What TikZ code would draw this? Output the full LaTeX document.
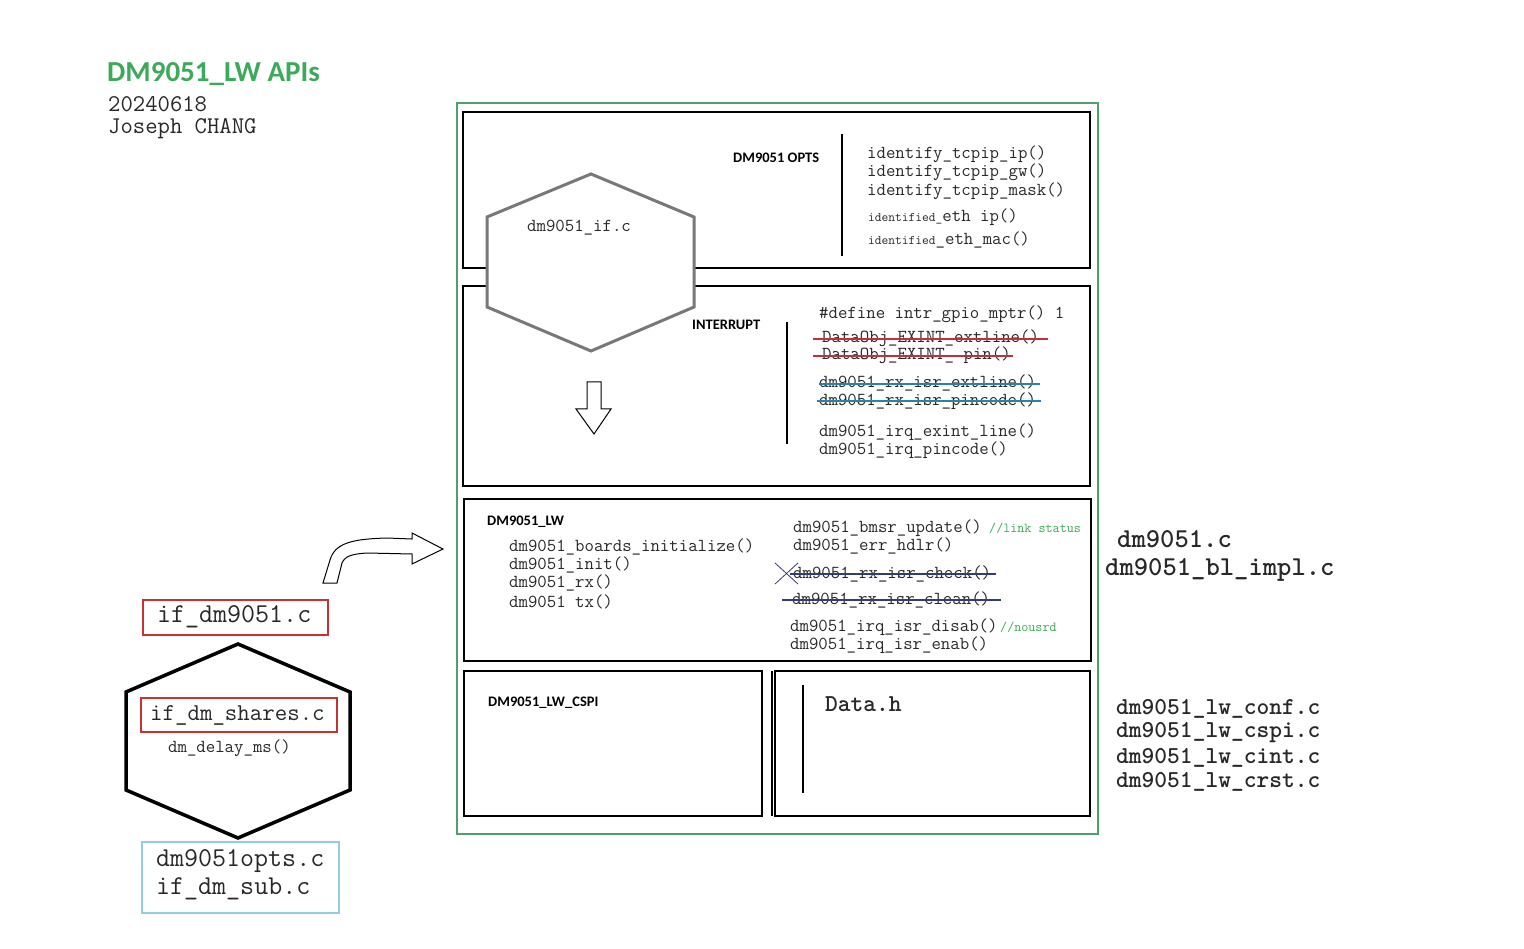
\documentclass[tikz,border=0pt]{standalone}
\usepackage{fontspec}
\newfontfamily\sansf{Carlito}
\definecolor{titlegreen}{RGB}{60,170,90}
\definecolor{framegreen}{RGB}{80,160,110}
\definecolor{commentgreen}{RGB}{60,170,90}
\definecolor{strikered}{RGB}{190,50,60}
\definecolor{striketeal}{RGB}{40,130,170}
\definecolor{strikenavy}{RGB}{50,60,120}
\definecolor{boxred}{RGB}{200,50,50}
\definecolor{boxblue}{RGB}{150,205,220}
\definecolor{hexgray}{RGB}{120,120,120}
\definecolor{textgray}{RGB}{40,40,40}
\tikzset{
  mtxt/.style={font=\ttfamily\fontsize{18.3}{21}\selectfont, anchor=west, inner sep=0pt, text=textgray},
  smtxt/.style={font=\ttfamily\fontsize{13.7}{16}\selectfont, anchor=west, inner sep=0pt, text=commentgreen},
  stxt/.style={font=\sansf\bfseries\fontsize{14.5}{17}\selectfont, anchor=west, inner sep=0pt, text=black},
  bigbold/.style={font=\ttfamily\bfseries\fontsize{27.3}{32}\selectfont, anchor=west, inner sep=0pt, text=textgray},
  midbold/.style={font=\ttfamily\bfseries\fontsize{24.3}{28}\selectfont, anchor=west, inner sep=0pt, text=textgray},
  bigmono/.style={font=\ttfamily\fontsize{27.2}{32}\selectfont, anchor=west, inner sep=0pt, text=textgray},
  midmono/.style={font=\ttfamily\fontsize{24.2}{28}\selectfont, anchor=west, inner sep=0pt, text=textgray},
  panel/.style={draw=black, line width=1.2pt},
  sepline/.style={draw=black, line width=1.2pt},
  strike/.style={line width=1.1pt},
}
\begin{document}
\begin{tikzpicture}[x=1pt,y=-1pt]
\useasboundingbox[fill=white] (0,0) rectangle (1524,949);

% title block
\node[font=\sansf\bfseries\fontsize{29}{34}\selectfont, text=titlegreen, anchor=west, inner sep=0pt] (title) at (107,74) {DM9051\_LW APIs};
\node[font=\ttfamily\fontsize{24}{28}\selectfont, text=textgray, anchor=west, inner sep=0pt] (date) at (108,104) {20240618};
\node[font=\ttfamily\fontsize{24}{28}\selectfont, text=textgray, anchor=west, inner sep=0pt] (author) at (108,129) {Joseph CHANG};

% outer green frame
\draw[draw=framegreen, line width=1.1pt] (457,103) rectangle (1098,834);

% panels
\draw[panel] (463,112) rectangle (1090,268);
\draw[panel] (463,286) rectangle (1090,486);
\draw[panel] (464,499) rectangle (1091,661);
\draw[panel] (464,671) rectangle (762,816);
\draw[panel] (775,671) rectangle (1090,816);
\draw[sepline] (772,671) -- (772,816);

% DM9051 OPTS panel
\node[stxt] (opts) at (733,158) {DM9051 OPTS};
\draw[sepline] (842,134) -- (842,256);
\node[mtxt] (o1) at (867,154) {identify\_tcpip\_ip()};
\node[mtxt] (o2) at (867,172) {identify\_tcpip\_gw()};
\node[mtxt] (o3) at (867,191) {identify\_tcpip\_mask()};
\node[mtxt] (o4) at (868,217) {{\fontsize{13.1}{15}\selectfont identified\_}eth ip()};
\node[mtxt] (o5) at (868,240) {{\fontsize{13.1}{15}\selectfont identified}\_eth\_mac()};

% INTERRUPT panel
\node[stxt] (intr) at (692,325) {INTERRUPT};
\draw[sepline] (787,322) -- (787,444);
\node[mtxt] (i0) at (819,314) {\#define intr\_gpio\_mptr() 1};
\node[mtxt] (i1) at (822,338) {DataObj\_EXINT\_extline()};
\node[mtxt] (i2) at (822,355) {DataObj\_EXINT\_ pin()};
\draw[strike, strikered] (813,339) -- (1048,339);
\draw[strike, strikered] (813,356) -- (1013,356);
\node[mtxt] (i3) at (819,383) {dm9051\_rx\_isr\_extline()};
\node[mtxt] (i4) at (819,401) {dm9051\_rx\_isr\_pincode()};
\draw[strike, striketeal] (819,384) -- (1040,384);
\draw[strike, striketeal] (817,401) -- (1041,401);
\node[mtxt] (i5) at (819,432) {dm9051\_irq\_exint\_line()};
\node[mtxt] (i6) at (819,450) {dm9051\_irq\_pincode()};

% hexagon dm9051_if.c
\draw[draw=hexgray, line width=3pt, fill=white, line join=miter]
  (591,174) -- (694,217) -- (694,307) -- (591,351) -- (487,307) -- (487,217) -- cycle;
\node[mtxt] (ifc) at (527,228) {dm9051\_if.c};

% down block arrow
\draw[line width=1pt, fill=white]
  (587,382) -- (601,382) -- (601,409) -- (611,409) -- (594,434) -- (576,409) -- (587,409) -- cycle;

% DM9051_LW panel
\node[stxt] (lw) at (487,522) {DM9051\_LW};
\node[mtxt] (l1) at (509,547) {dm9051\_boards\_initialize()};
\node[mtxt] (l2) at (509,565) {dm9051\_init()};
\node[mtxt] (l3) at (509,583) {dm9051\_rx()};
\node[mtxt] (l4) at (509,602) {dm9051 tx()};
\node[mtxt] (r1) at (793,528) {dm9051\_bmsr\_update()};
\node[smtxt] (r1c) at (989,528) {//link status};
\node[mtxt] (r2) at (793,546) {dm9051\_err\_hdlr()};
\node[mtxt] (r3) at (793,574) {dm9051\_rx\_isr\_check()};
\draw[strike, strikenavy] (790,574) -- (996,574);
\draw[line width=0.8pt, strikenavy] (775,563) -- (798,584);
\draw[line width=0.8pt, strikenavy] (775,584) -- (798,563);
\node[mtxt] (r4) at (792,600) {dm9051\_rx\_isr\_clean()};
\draw[strike, strikenavy] (782,600) -- (1001,600);
\node[mtxt] (r5) at (790,627) {dm9051\_irq\_isr\_disab()};
\node[smtxt] (r5c) at (1000,627) {//nousrd};
\node[mtxt] (r6) at (790,645) {dm9051\_irq\_isr\_enab()};

% bottom panels
\node[stxt] (cspi) at (488,703) {DM9051\_LW\_CSPI};
\draw[sepline] (803,685) -- (803,793);
\node[midbold] (datah) at (825,704) {Data.h};

% right labels
\node[bigbold] (f1) at (1117,539) {dm9051.c};
\node[bigbold] (f2) at (1105,570) {dm9051\_bl\_impl.c};
\node[midbold] (f3) at (1116,709) {dm9051\_lw\_conf.c};
\node[midbold] (f4) at (1116,733) {dm9051\_lw\_cspi.c};
\node[midbold] (f5) at (1116,758) {dm9051\_lw\_cint.c};
\node[midbold] (f6) at (1116,782) {dm9051\_lw\_crst.c};

% curved block arrow
\draw[line width=1pt, fill=white, line join=miter]
  (323,583) -- (330,560) .. controls (335,543) and (352,539) .. (387,538) -- (412,539)
  -- (412,533) -- (443,549) -- (412,564) -- (412,554) -- (367,553)
  .. controls (352,554) and (345,556) .. (342,563) -- (337,583) -- cycle;

% left side
\draw[draw=boxred, line width=1.1pt] (143,600) rectangle (328,635);
\node[bigmono] (ifdm) at (157,617) {if\_dm9051.c};
\draw[draw=black, line width=3.5pt, fill=white, line join=miter]
  (238,644) -- (350,692) -- (350,790) -- (238,838) -- (126,790) -- (126,692) -- cycle;
\draw[draw=boxred, line width=1.1pt] (141,698) rectangle (337,732);
\node[midmono] (shares) at (150,715) {if\_dm\_shares.c};
\node[mtxt] (delay) at (168,748) {dm\_delay\_ms()};
\draw[draw=boxblue, line width=1.1pt] (142,842) rectangle (339,913);
\node[bigmono] (opts2) at (156,861) {dm9051opts.c};
\node[bigmono] (sub) at (156,889) {if\_dm\_sub.c};
\end{tikzpicture}
\end{document}
